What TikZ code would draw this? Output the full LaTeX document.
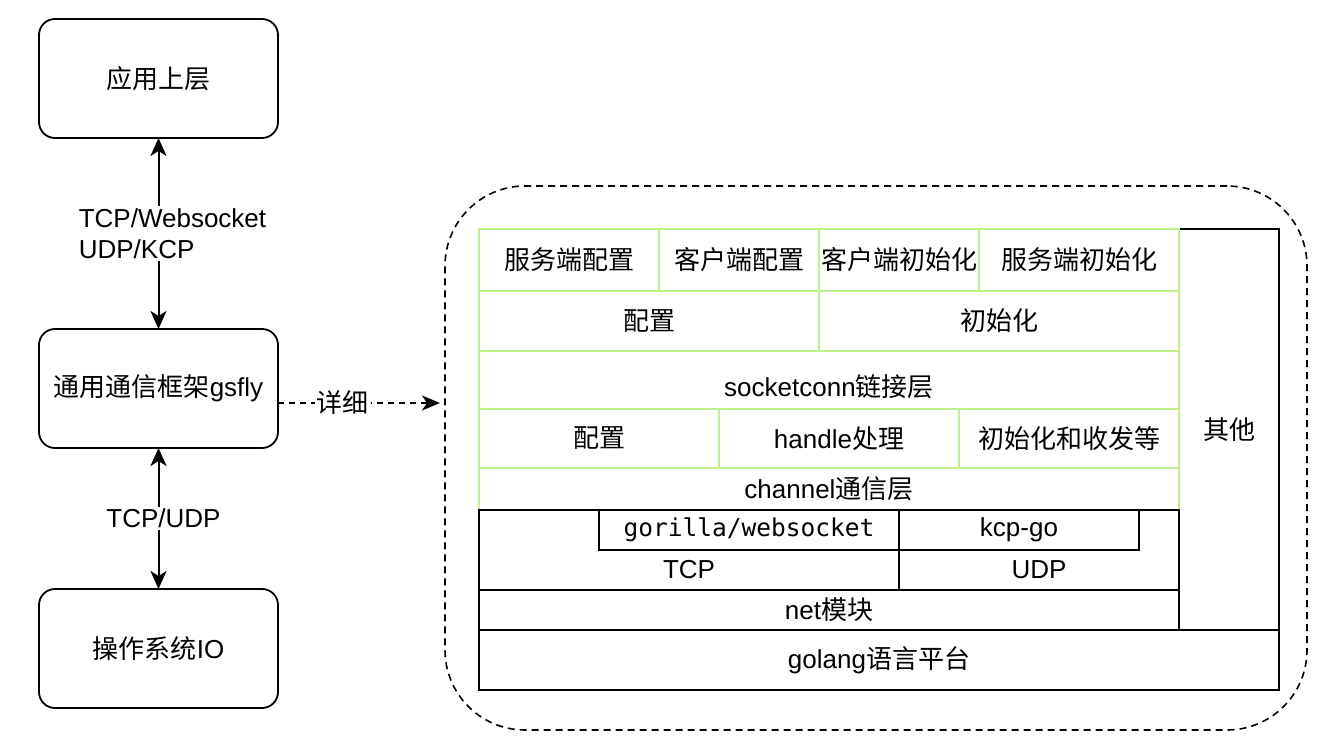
\documentclass[tikz,border=0pt]{standalone}
\usepackage{fontspec}
\setmainfont{Liberation Sans}
\newfontfamily\cjkf{Noto Sans CJK SC}
\newfontfamily\monof{DejaVu Sans Mono}
\newcommand\zhtxt[1]{{\cjkf #1}}
\usetikzlibrary{arrows.meta,calc}
\definecolor{lgreen}{RGB}{190,240,140}
\begin{document}
\begin{tikzpicture}[x=1pt,y=-1pt,
  font=\fontsize{26}{31}\selectfont,
  every node/.style={inner sep=0pt,outer sep=0pt},
  sysbox/.style={draw,line width=1.8pt,rounded corners=16pt,minimum width=239pt,minimum height=119pt},
  gcell/.style={draw=lgreen,line width=1.8pt},
  bcell/.style={draw=black,line width=1.8pt},
  arr/.style={line width=2pt,{Stealth[length=18pt,width=16pt,inset=5pt]}-{Stealth[length=18pt,width=16pt,inset=5pt]}},
  darr/.style={line width=1.6pt,dash pattern=on 6pt off 5pt,-{Stealth[length=18pt,width=15pt,inset=5pt]}},
  lbl/.style={fill=white,inner sep=2pt}]
\useasboundingbox (0,0) rectangle (1326,744);
\fill[white] (0,0) rectangle (1326,744);

% left column
\node[sysbox] (b1) at (158.5,78.5) {\zhtxt{应用上层}};
\node[sysbox] (b2) at (158.5,388.5) {\zhtxt{通用通信框架}gsfly};
\node[sysbox] (b3) at (158.5,648.5) {\zhtxt{操作系统}IO};

\draw[arr] (b1.south) -- node[lbl,align=left,xshift=14pt] {TCP/Websocket\\UDP/KCP} (b2.north);
\draw[arr] (b2.south) -- node[lbl,xshift=5pt] {TCP/UDP} (b3.north);

% outer dashed frame
\node[draw,line width=1.6pt,dash pattern=on 7pt off 5pt,rounded corners=80pt,minimum width=862pt,minimum height=544pt] (outer) at (876,458) {};

\coordinate (dtip) at ($(b2.east -| outer.west)+(-5pt,-14.5pt)$);
\draw[darr] ([yshift=-14.5pt]b2.east) -- node[lbl,pos=0.4] {\zhtxt{详细}} (dtip);

% right-side "other" column
\node[bcell,minimum width=100pt,minimum height=401pt] (other) at (1229,429.5) {\zhtxt{其他}};

% green layers
\node[gcell,minimum width=180pt,minimum height=62pt] (c11) at (569,260) {\zhtxt{服务端配置}};
\node[gcell,minimum width=160pt,minimum height=62pt] (c12) at (739,260) {\zhtxt{客户端配置}};
\node[gcell,minimum width=160pt,minimum height=62pt] (c13) at (899,260) {\zhtxt{客户端初始化}};
\node[gcell,minimum width=200pt,minimum height=62pt] (c14) at (1079,260) {\zhtxt{服务端初始化}};
\node[gcell,minimum width=340pt,minimum height=60pt] (c21) at (649,321) {\zhtxt{配置}};
\node[gcell,minimum width=360pt,minimum height=60pt] (c22) at (999,321) {\zhtxt{初始化}};
\node[gcell,minimum width=700pt,minimum height=58pt] (c3) at (829,380) {};
\node (c3t) at (829,387) {socketconn\zhtxt{链接层}};
\node[gcell,minimum width=240pt,minimum height=59pt] (c41) at (599,438.5) {\zhtxt{配置}};
\node[gcell,minimum width=240pt,minimum height=59pt] (c42) at (839,438.5) {handle\zhtxt{处理}};
\node[gcell,minimum width=220pt,minimum height=59pt] (c43) at (1069,438.5) {\zhtxt{初始化和收发等}};
\node[gcell,minimum width=700pt,minimum height=42pt] (c5) at (829,489) {channel\zhtxt{通信层}};

% black layers
\node[bcell,minimum width=420pt,minimum height=80pt] (tcp) at (689,550) {};
\node (tcpt) at (689,570) {TCP};
\node[bcell,minimum width=280pt,minimum height=80pt] (udp) at (1039,550) {};
\node (udpt) at (1039,570) {UDP};
\node[bcell,minimum width=300pt,minimum height=40pt] (gor) at (749,530) {\monof\fontsize{24.5}{30}\selectfont gorilla/websocket};
\node[bcell,minimum width=240pt,minimum height=40pt] (kcp) at (1019,530) {kcp-go};
\node[bcell,minimum width=700pt,minimum height=40pt] (net) at (829,610) {net\zhtxt{模块}};
\node[bcell,minimum width=800pt,minimum height=60pt] (golang) at (879,660) {golang\zhtxt{语言平台}};
\end{tikzpicture}
\end{document}
